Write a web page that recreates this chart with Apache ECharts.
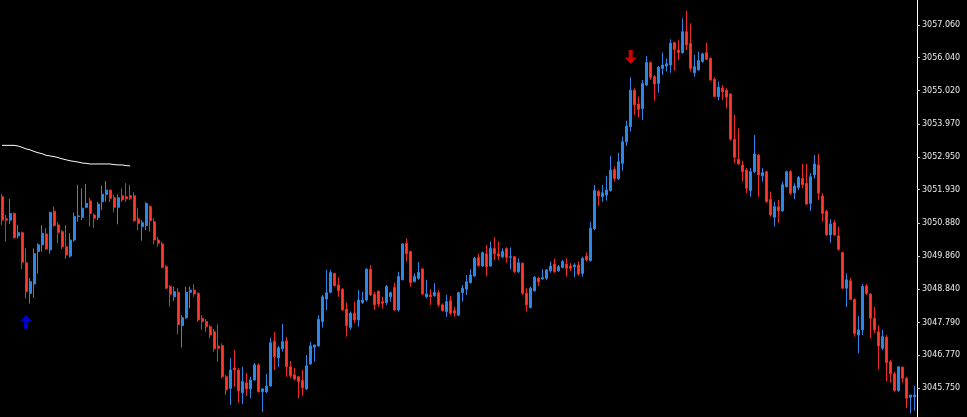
<!DOCTYPE html>
<html>
<head>
<meta charset="utf-8">
<title>XAU chart</title>
<script src="https://cdn.jsdelivr.net/npm/echarts@6/dist/echarts.min.js"></script>
<style>
    html, body { margin: 0; padding: 0; background: #000; }
    #chart { width: 967px; height: 417px; }
</style>
</head>
<body>
<div id="chart"></div>
<script>
// candles: [open, close, low, high]
var candles = [
    [3051.71, 3050.98, 3050.83, 3051.79], [3051.02, 3050.98, 3050.31, 3051.14], [3050.98, 3051.19, 3050.86, 3051.64],
    [3051.19, 3050.43, 3050.41, 3051.22], [3050.49, 3050.59, 3050.41, 3050.83], [3050.59, 3049.67, 3049.46, 3050.62],
    [3049.65, 3048.75, 3048.54, 3050.10], [3048.70, 3049.06, 3048.38, 3049.17], [3048.99, 3049.93, 3048.56, 3050.10],
    [3050.00, 3050.21, 3049.31, 3050.26], [3050.21, 3050.57, 3050.00, 3050.83], [3050.55, 3050.08, 3050.05, 3050.73],
    [3050.05, 3051.22, 3049.93, 3051.24], [3051.26, 3050.81, 3050.78, 3051.40], [3050.83, 3050.60, 3050.26, 3050.93],
    [3050.62, 3050.15, 3050.08, 3050.67], [3050.15, 3049.89, 3049.77, 3050.83], [3049.86, 3050.36, 3049.81, 3050.57],
    [3050.36, 3051.09, 3050.31, 3051.22], [3051.09, 3051.11, 3050.93, 3052.08], [3051.06, 3051.35, 3050.98, 3051.97],
    [3051.38, 3051.50, 3051.35, 3052.11], [3051.58, 3051.19, 3050.78, 3051.68], [3051.14, 3051.04, 3050.74, 3051.19],
    [3051.06, 3051.48, 3050.98, 3051.55], [3051.55, 3051.79, 3051.29, 3052.05], [3051.78, 3051.92, 3051.55, 3052.20],
    [3051.92, 3051.66, 3051.54, 3051.92], [3051.68, 3051.38, 3051.22, 3051.78], [3051.38, 3051.68, 3050.85, 3051.78],
    [3051.74, 3051.61, 3051.55, 3051.97], [3051.71, 3051.64, 3051.55, 3052.13], [3051.74, 3051.66, 3051.60, 3052.08],
    [3051.74, 3050.96, 3050.93, 3051.85], [3051.02, 3050.88, 3050.67, 3051.35], [3050.78, 3050.90, 3050.34, 3050.98],
    [3050.81, 3051.50, 3050.67, 3051.54], [3051.40, 3050.96, 3050.62, 3051.43], [3050.93, 3050.36, 3050.23, 3051.04],
    [3050.36, 3050.26, 3050.15, 3050.46], [3050.24, 3049.51, 3049.48, 3050.31], [3049.53, 3048.86, 3048.83, 3049.58],
    [3048.91, 3048.67, 3048.28, 3048.96], [3048.59, 3048.75, 3048.46, 3048.91], [3048.73, 3047.73, 3047.42, 3048.86],
    [3047.69, 3047.94, 3047.01, 3048.02], [3047.94, 3048.73, 3047.90, 3048.91], [3048.73, 3048.80, 3048.23, 3048.91],
    [3048.80, 3048.68, 3048.59, 3048.98], [3048.70, 3047.87, 3047.82, 3048.73], [3047.92, 3047.82, 3047.56, 3048.02],
    [3047.82, 3047.66, 3047.50, 3047.90], [3047.66, 3047.40, 3047.30, 3047.71], [3047.50, 3046.97, 3046.88, 3047.59],
    [3047.06, 3046.99, 3046.57, 3047.73], [3047.07, 3046.10, 3046.05, 3047.14], [3046.10, 3045.69, 3045.53, 3046.16],
    [3045.74, 3046.31, 3045.22, 3046.68], [3046.37, 3046.31, 3045.79, 3046.93], [3046.31, 3045.66, 3045.29, 3046.37],
    [3045.60, 3045.95, 3045.25, 3046.41], [3045.91, 3045.72, 3045.50, 3046.22], [3045.72, 3046.00, 3045.43, 3046.10],
    [3046.00, 3046.47, 3045.98, 3046.53], [3046.47, 3045.63, 3045.61, 3046.52], [3045.63, 3045.72, 3045.01, 3045.74],
    [3045.63, 3045.81, 3045.59, 3046.19], [3045.81, 3047.16, 3045.79, 3047.31], [3047.21, 3046.73, 3046.31, 3047.50],
    [3046.69, 3047.00, 3046.41, 3047.06], [3046.97, 3047.19, 3046.88, 3047.74], [3047.22, 3046.41, 3046.10, 3047.34],
    [3046.41, 3046.13, 3046.05, 3046.59], [3046.16, 3046.03, 3045.98, 3046.37], [3046.10, 3045.95, 3045.43, 3046.12],
    [3045.98, 3045.76, 3045.51, 3046.31], [3045.72, 3046.44, 3045.69, 3046.78], [3046.50, 3047.06, 3046.47, 3047.19],
    [3047.02, 3047.09, 3046.57, 3047.09], [3047.06, 3047.89, 3047.04, 3048.02], [3047.82, 3048.59, 3047.63, 3048.65],
    [3048.52, 3048.72, 3048.18, 3049.43], [3048.73, 3049.35, 3048.70, 3049.43], [3049.32, 3048.94, 3048.91, 3049.34],
    [3048.96, 3048.78, 3048.59, 3049.20], [3048.83, 3048.18, 3048.16, 3048.86], [3048.21, 3047.69, 3047.35, 3048.41],
    [3047.64, 3048.08, 3047.56, 3048.13], [3048.08, 3047.87, 3047.77, 3048.44], [3047.87, 3048.49, 3047.66, 3048.80],
    [3048.41, 3048.49, 3048.37, 3048.75], [3048.49, 3049.45, 3048.44, 3049.48], [3049.45, 3048.65, 3048.62, 3049.58],
    [3048.67, 3048.34, 3048.18, 3048.75], [3048.77, 3048.37, 3048.28, 3048.77], [3048.44, 3048.39, 3048.23, 3048.59],
    [3048.41, 3048.91, 3048.34, 3048.96], [3048.59, 3048.72, 3048.44, 3048.75], [3048.88, 3048.18, 3048.16, 3049.03],
    [3048.18, 3049.22, 3048.13, 3049.37], [3049.12, 3050.24, 3049.12, 3050.26], [3050.26, 3049.93, 3049.69, 3050.41],
    [3050.00, 3049.03, 3048.91, 3050.03], [3049.06, 3049.22, 3049.06, 3049.32], [3049.17, 3049.35, 3049.12, 3049.67],
    [3049.46, 3048.68, 3048.65, 3049.48], [3048.59, 3048.68, 3048.54, 3049.12], [3048.65, 3048.59, 3048.34, 3048.83],
    [3048.63, 3048.73, 3048.59, 3049.01], [3048.72, 3048.34, 3048.28, 3048.80], [3048.34, 3048.16, 3048.13, 3048.39],
    [3048.13, 3048.44, 3047.97, 3048.65], [3048.47, 3048.08, 3048.02, 3048.62], [3048.16, 3048.08, 3047.97, 3048.28],
    [3048.02, 3048.72, 3047.99, 3048.75], [3048.72, 3048.86, 3048.44, 3048.96], [3048.83, 3049.06, 3048.65, 3049.27],
    [3049.03, 3049.27, 3049.01, 3049.45], [3049.24, 3049.79, 3049.22, 3049.84], [3049.81, 3049.56, 3049.53, 3049.93],
    [3049.55, 3049.97, 3049.53, 3050.00], [3049.93, 3049.53, 3049.24, 3050.21], [3049.55, 3050.10, 3049.53, 3050.31],
    [3050.10, 3049.93, 3049.74, 3050.45], [3049.93, 3049.86, 3049.74, 3050.31], [3049.84, 3050.00, 3049.79, 3050.10],
    [3050.10, 3049.82, 3049.65, 3050.13], [3049.82, 3049.84, 3049.45, 3050.13], [3049.84, 3049.37, 3049.34, 3049.86],
    [3049.37, 3049.65, 3049.34, 3049.79], [3049.64, 3048.70, 3048.65, 3049.65], [3048.70, 3048.34, 3048.13, 3048.86],
    [3048.26, 3048.86, 3048.23, 3048.91], [3048.78, 3049.20, 3048.75, 3049.24], [3049.17, 3049.06, 3048.93, 3049.22],
    [3049.15, 3049.19, 3049.12, 3049.45], [3049.17, 3049.43, 3049.12, 3049.45], [3049.40, 3049.55, 3049.34, 3049.69],
    [3049.61, 3049.37, 3049.34, 3049.79], [3049.40, 3049.53, 3049.37, 3049.58], [3049.51, 3049.69, 3049.48, 3049.74],
    [3049.61, 3049.48, 3049.22, 3049.79], [3049.55, 3049.48, 3049.40, 3049.64], [3049.53, 3049.58, 3049.20, 3049.64],
    [3049.58, 3049.30, 3049.24, 3049.69], [3049.32, 3049.79, 3049.22, 3049.84], [3049.86, 3049.74, 3049.69, 3049.97],
    [3049.72, 3050.73, 3049.69, 3050.93], [3050.71, 3051.90, 3050.67, 3052.08], [3051.87, 3051.73, 3051.42, 3051.92],
    [3051.71, 3051.83, 3051.55, 3052.08], [3051.76, 3051.92, 3051.59, 3052.36], [3051.90, 3052.54, 3051.87, 3052.98],
    [3052.56, 3052.28, 3052.18, 3052.65], [3052.28, 3052.80, 3052.23, 3053.08], [3052.75, 3053.42, 3052.52, 3053.58],
    [3053.42, 3053.91, 3053.29, 3054.08], [3053.89, 3055.03, 3053.74, 3055.43], [3055.03, 3054.57, 3054.26, 3055.09],
    [3054.60, 3054.43, 3054.18, 3054.83], [3054.46, 3055.24, 3054.10, 3055.35], [3055.19, 3055.89, 3055.16, 3056.09],
    [3055.89, 3055.43, 3055.35, 3055.92], [3055.45, 3055.22, 3054.70, 3055.50], [3055.24, 3055.74, 3054.95, 3055.78],
    [3055.71, 3055.81, 3055.50, 3056.20], [3055.78, 3055.85, 3055.61, 3056.02], [3055.81, 3056.49, 3055.57, 3056.61],
    [3056.51, 3056.30, 3055.64, 3056.54], [3056.28, 3056.20, 3055.97, 3056.59], [3056.20, 3056.85, 3056.16, 3057.27],
    [3056.85, 3056.44, 3056.28, 3057.50], [3056.49, 3055.71, 3055.61, 3057.11], [3055.57, 3055.76, 3055.45, 3056.13],
    [3055.66, 3055.95, 3055.64, 3056.23], [3055.92, 3056.16, 3055.89, 3056.20], [3056.20, 3055.99, 3055.97, 3056.51],
    [3056.02, 3055.35, 3055.32, 3056.05], [3055.37, 3054.83, 3054.81, 3055.43], [3054.83, 3055.12, 3054.72, 3055.29],
    [3055.09, 3054.98, 3054.72, 3055.19], [3055.03, 3054.81, 3054.46, 3055.09], [3054.91, 3053.50, 3053.46, 3054.93],
    [3053.50, 3052.94, 3052.75, 3054.26], [3052.88, 3052.73, 3052.70, 3053.84], [3052.70, 3052.49, 3052.18, 3052.83],
    [3052.54, 3051.97, 3051.82, 3052.60], [3051.90, 3052.49, 3051.71, 3052.60], [3052.49, 3053.04, 3052.44, 3053.63],
    [3053.01, 3052.39, 3051.71, 3053.04], [3052.36, 3052.46, 3052.18, 3052.60], [3052.49, 3051.55, 3051.52, 3052.52],
    [3051.63, 3051.14, 3051.09, 3051.87], [3051.07, 3051.40, 3050.78, 3051.55], [3051.40, 3051.27, 3050.90, 3051.61],
    [3051.27, 3052.08, 3051.24, 3052.18], [3052.02, 3052.49, 3052.00, 3052.52], [3052.49, 3051.82, 3051.76, 3052.54],
    [3051.83, 3052.04, 3051.63, 3052.13], [3052.00, 3052.31, 3051.92, 3052.36], [3052.28, 3052.08, 3051.97, 3052.73],
    [3052.13, 3051.48, 3051.45, 3052.73], [3051.50, 3052.33, 3051.27, 3052.44], [3052.39, 3052.73, 3052.28, 3053.01],
    [3052.70, 3051.82, 3051.61, 3053.04], [3051.73, 3051.19, 3050.93, 3051.82], [3051.26, 3050.52, 3050.49, 3051.30],
    [3050.52, 3050.86, 3050.28, 3051.01], [3050.90, 3050.52, 3050.49, 3050.98], [3050.49, 3050.07, 3050.03, 3050.78],
    [3049.97, 3048.86, 3048.83, 3050.00], [3048.86, 3049.12, 3048.28, 3049.32], [3049.09, 3048.51, 3048.49, 3049.17],
    [3048.51, 3047.45, 3047.35, 3048.54], [3047.40, 3047.56, 3046.83, 3047.99], [3047.56, 3048.91, 3047.40, 3048.99],
    [3048.93, 3048.70, 3048.65, 3048.99], [3048.68, 3047.92, 3047.30, 3048.70], [3047.92, 3047.56, 3047.45, 3048.28],
    [3047.50, 3047.06, 3046.33, 3047.71], [3046.99, 3047.35, 3046.93, 3047.56], [3047.33, 3046.54, 3045.95, 3047.40],
    [3046.57, 3046.19, 3045.92, 3046.62], [3046.19, 3045.67, 3045.63, 3046.26], [3045.67, 3046.41, 3045.63, 3046.41],
    [3046.40, 3046.05, 3045.92, 3046.41], [3046.05, 3045.43, 3045.12, 3046.10], [3045.46, 3045.53, 3044.96, 3045.53],
    [3045.48, 3045.53, 3045.04, 3045.81]
];

// white moving average, only the first bars have it
var maLine = [
    3053.31, 3053.31, 3053.31, 3053.31, 3053.29, 3053.25, 3053.20, 3053.17, 3053.12, 3053.08, 3053.05,
    3053.00, 3052.98, 3052.96, 3052.93, 3052.89, 3052.86, 3052.83, 3052.81, 3052.79, 3052.76, 3052.75,
    3052.73, 3052.73, 3052.73, 3052.73, 3052.73, 3052.73, 3052.71, 3052.70, 3052.70, 3052.68, 3052.67
];

// signal arrows: [bar index, price]
var buyArrows = [[6, 3047.81]];
var sellArrows = [[157, 3056.06]];

// price scale labels on the right
var priceTicks = [3045.75, 3046.77, 3047.79, 3048.84, 3049.86, 3050.88, 3051.93, 3052.95, 3053.97, 3055.02, 3056.04, 3057.06];
var priceMin = 3044.846;
var priceMax = 3057.839;

var categories = candles.map(function (c, i) { return i; });

var upPath = 'path://M6,0 L12,6.5 L8,6.5 L8,14 L4,14 L4,6.5 L0,6.5 Z';
var downPath = 'path://M4,0 L8,0 L8,7.5 L12,7.5 L6,14 L0,7.5 L4,7.5 Z';

var myChart = echarts.init(document.getElementById('chart'), null, { renderer: 'canvas' });

myChart.setOption({
    backgroundColor: '#000000',
    animation: false,
    grid: {
        left: 0,
        right: 50,
        top: 0,
        bottom: 0
    },
    xAxis: {
        type: 'category',
        data: categories,
        boundaryGap: true,
        axisLine: { show: false },
        axisTick: { show: false },
        axisLabel: { show: false },
        splitLine: { show: false }
    },
    yAxis: {
        type: 'value',
        position: 'right',
        min: priceMin,
        max: priceMax,
        splitLine: { show: false },
        axisLine: {
            show: true,
            lineStyle: { color: '#ffffff', width: 1 }
        },
        axisTick: {
            show: true,
            length: 3,
            customValues: priceTicks,
            lineStyle: { color: '#d0d0d0' }
        },
        axisLabel: {
            customValues: priceTicks,
            margin: 5,
            color: '#ececec',
            fontSize: 8,
            fontFamily: 'DejaVu Sans',
            formatter: function (value) {
                return value.toFixed(3);
            }
        }
    },
    series: [
        {
            name: 'price',
            type: 'candlestick',
            data: candles,
            barWidth: 2.5,
            itemStyle: {
                color: '#2f86e6',
                color0: '#ff3a2e',
                borderColor: '#2f86e6',
                borderColor0: '#f02a20',
                borderWidth: 1
            }
        },
        {
            name: 'ma',
            type: 'line',
            data: maLine,
            showSymbol: false,
            lineStyle: { color: '#ffffff', width: 1 }
        },
        {
            name: 'buy',
            type: 'scatter',
            data: buyArrows,
            symbol: upPath,
            symbolSize: [12, 14],
            itemStyle: { color: '#0000ff' }
        },
        {
            name: 'sell',
            type: 'scatter',
            data: sellArrows,
            symbol: downPath,
            symbolSize: [12, 14],
            itemStyle: { color: '#ff0000' }
        }
    ]
});
</script>
</body>
</html>
